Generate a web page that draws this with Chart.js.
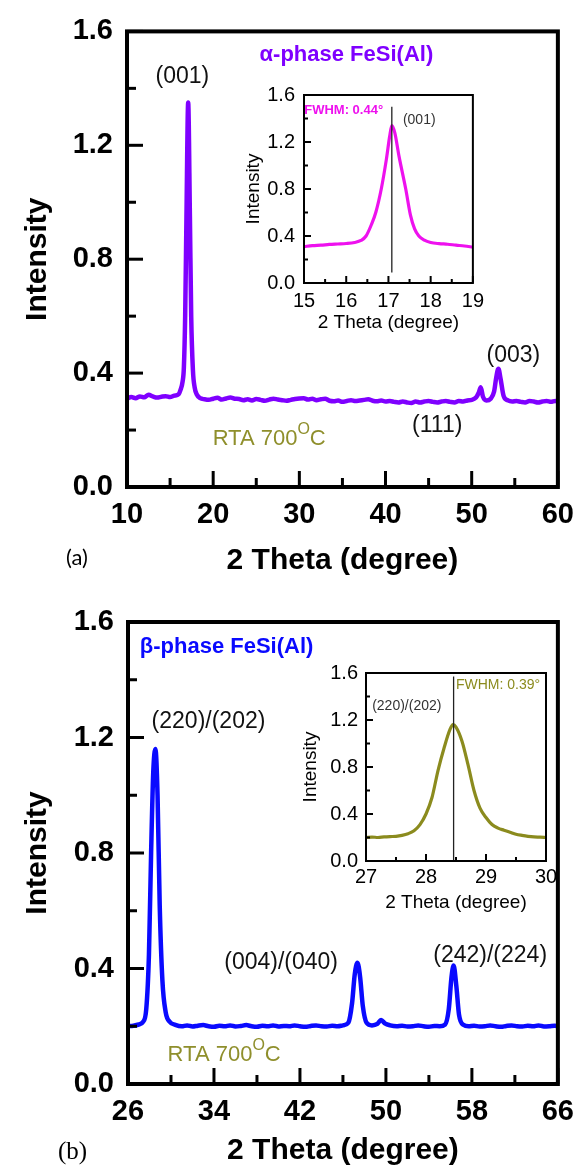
<!DOCTYPE html>
<html>
<head>
<meta charset="utf-8">
<script src="https://cdn.jsdelivr.net/npm/chart.js@4.4.0/dist/chart.umd.min.js"></script>
<style>
  body { margin: 0; background: #fff; }
  #wrap { position: relative; width: 585px; height: 1170px; overflow: hidden; background: #fff; }
  canvas { position: absolute; }
  .tag { position: absolute; color: #000; line-height: 1; }
</style>
</head>
<body>
<div id="wrap">
  <canvas id="mainA" width="585" height="580" style="left:0px;top:0px"></canvas>
  <canvas id="insetA" width="260" height="270" style="left:230px;top:70px"></canvas>
  <canvas id="mainB" width="585" height="590" style="left:0px;top:580px"></canvas>
  <canvas id="insetB" width="275" height="275" style="left:290px;top:640px"></canvas>
  <div class="tag" style="left:66px;top:543px;font:22px Lato">(a)</div>
  <div class="tag" style="left:58px;top:1137px;font:25px 'Liberation Serif'">(b)</div>
</div>
<script>
// panel (a) alpha phase scan
var thetaA = [
  10, 10.5, 11, 11.5, 12, 12.5, 13, 13.5, 14, 14.5,
  15, 15.5, 16, 16.2, 16.45, 16.6, 16.75, 16.9, 17.1, 17.3,
  17.45, 17.65, 17.85, 18.1, 18.5, 19, 19.5, 20, 20.5, 21,
  21.5, 22, 22.5, 23, 23.5, 24, 24.5, 25, 25.5, 26,
  26.5, 27, 27.5, 28, 28.5, 29, 29.5, 30, 30.5, 31,
  31.5, 32, 32.5, 33, 33.5, 34, 34.5, 35, 35.5, 36,
  36.5, 37, 37.5, 38, 38.5, 39, 39.5, 40, 40.5, 41,
  41.5, 42, 42.5, 43, 43.5, 44, 44.5, 45, 45.5, 46,
  46.5, 47, 47.5, 48, 48.5, 49, 49.5, 50, 50.5, 50.8,
  51.05, 51.3, 51.7, 52.2, 52.6, 52.85, 53.1, 53.35, 53.7, 54.2,
  54.7, 55.2, 55.7, 56.2, 56.7, 57.2, 57.7, 58.2, 58.7, 59.2,
  59.7, 60
];
var intensityA = [
  0.31, 0.316, 0.312, 0.318, 0.315, 0.324, 0.318, 0.314, 0.317, 0.319,
  0.316, 0.321, 0.326, 0.34, 0.37, 0.42, 0.6, 0.95, 1.35, 0.95,
  0.6, 0.41, 0.35, 0.325, 0.312, 0.308, 0.306, 0.31, 0.313, 0.307,
  0.311, 0.314, 0.31, 0.309, 0.305, 0.308, 0.304, 0.309, 0.306, 0.303,
  0.307, 0.31, 0.307, 0.305, 0.303, 0.306, 0.309, 0.311, 0.312, 0.307,
  0.31, 0.305, 0.308, 0.31, 0.303, 0.301, 0.304, 0.299, 0.302, 0.305,
  0.302, 0.304, 0.306, 0.308, 0.303, 0.301, 0.304, 0.3, 0.302, 0.299,
  0.297, 0.3, 0.297, 0.295, 0.3, 0.297, 0.3, 0.302, 0.299, 0.297,
  0.3, 0.302, 0.299, 0.297, 0.302, 0.3, 0.304, 0.306, 0.314, 0.33,
  0.35, 0.318, 0.304, 0.31, 0.335, 0.385, 0.415, 0.38, 0.32, 0.304,
  0.3, 0.302, 0.299, 0.297, 0.302, 0.3, 0.297, 0.3, 0.302, 0.299,
  0.302, 0.3
];

// inset of (a): (001) peak
var thetaInA = [15, 15.2, 15.4, 15.6, 15.8, 16, 16.2, 16.35, 16.47, 16.6, 16.7, 16.83, 16.95, 17.03,
  17.08, 17.15, 17.25, 17.41, 17.52, 17.62, 17.72, 17.85, 18, 18.2, 18.4, 18.6, 18.8, 19];
var intensityInA = [0.31, 0.318, 0.322, 0.328, 0.332, 0.336, 0.345, 0.362, 0.4, 0.5, 0.6, 0.8, 1.05, 1.25,
  1.34, 1.28, 1.08, 0.8, 0.58, 0.46, 0.4, 0.365, 0.345, 0.335, 0.33, 0.322, 0.315, 0.305];

// panel (b) beta phase scan
var thetaB = [
  26, 26.5, 27, 27.4, 27.7, 27.95, 28.15, 28.35, 28.55, 28.75,
  28.95, 29.2, 29.5, 29.9, 30.4, 31, 31.5, 32, 32.5, 33,
  33.5, 34, 34.5, 35, 35.5, 36, 36.5, 37, 37.5, 38,
  38.5, 39, 39.5, 40, 40.5, 41, 41.5, 42, 42.5, 43,
  43.5, 44, 44.5, 45, 45.5, 46, 46.5, 46.85, 47.1, 47.35,
  47.6, 47.85, 48.2, 48.7, 49.2, 49.55, 49.9, 50.4, 51, 51.5,
  52, 52.5, 53, 53.5, 54, 54.5, 55, 55.5, 55.85, 56.1,
  56.3, 56.55, 56.8, 57.2, 57.7, 58.2, 58.7, 59.2, 59.7, 60.2,
  60.7, 61.2, 61.7, 62.2, 62.7, 63.2, 63.7, 64.2, 64.7, 65.2,
  65.7, 66
];
var intensityB = [
  0.2, 0.202, 0.206, 0.215, 0.26, 0.45, 0.8, 1.08, 1.16, 1.0,
  0.62, 0.36, 0.25, 0.215, 0.205, 0.2, 0.203, 0.199, 0.202, 0.204,
  0.2, 0.198, 0.202, 0.2, 0.203, 0.199, 0.201, 0.204, 0.2, 0.198,
  0.202, 0.2, 0.203, 0.199, 0.201, 0.2, 0.203, 0.2, 0.198, 0.201,
  0.203, 0.2, 0.199, 0.202, 0.2, 0.203, 0.212, 0.28, 0.38, 0.42,
  0.37, 0.27, 0.212, 0.203, 0.208, 0.222, 0.21, 0.203, 0.2, 0.202,
  0.199, 0.2, 0.203, 0.2, 0.198, 0.201, 0.2, 0.206, 0.26, 0.37,
  0.41, 0.34, 0.24, 0.205, 0.2, 0.202, 0.199, 0.2, 0.203, 0.2,
  0.198, 0.201, 0.203, 0.2, 0.199, 0.202, 0.2, 0.203, 0.199, 0.2,
  0.202, 0.2
];

// inset of (b): (220)/(202) peak
var thetaInB = [27, 27.1, 27.2, 27.3, 27.4, 27.5, 27.6, 27.7, 27.8, 27.9, 28, 28.1, 28.2, 28.3, 28.4, 28.45,
  28.5, 28.6, 28.7, 28.8, 28.9, 29, 29.1, 29.2, 29.3, 29.4, 29.5, 29.6, 29.7, 29.8, 29.9, 30];
var intensityInB = [0.2, 0.204, 0.2, 0.205, 0.208, 0.21, 0.218, 0.232, 0.258, 0.31, 0.4, 0.54, 0.77, 0.96, 1.12, 1.16,
  1.14, 1.02, 0.82, 0.6, 0.45, 0.37, 0.31, 0.28, 0.262, 0.245, 0.228, 0.218, 0.21, 0.205, 0.203, 0.2];

// text notes, in data coordinates
var notesA = [
  { text: 'α-phase FeSi(Al)', x: 35.46, y: 1.517 },
  { text: '(001)', x: 16.42, y: 1.44 },
  { text: '(003)', x: 54.84, y: 0.462 },
  { text: '(111)', x: 46.0, y: 0.215 },
  { text: 'RTA 700|O|C', x: 26.5, y: 0.17 }
];
var notesInA = [
  { text: 'FWHM: 0.44°', x: 15.94, y: 1.468 },
  { text: '(001)', x: 17.73, y: 1.383 }
];
var notesB = [
  { text: 'β-phase FeSi(Al)', x: 27.1, y: 1.513 },
  { text: '(220)/(202)', x: 33.49, y: 1.254 },
  { text: '(004)/(040)', x: 40.25, y: 0.419 },
  { text: '(242)/(224)', x: 59.7, y: 0.443 },
  { text: 'RTA 700|O|C', x: 34.95, y: 0.10 }
];
var notesInB = [
  { text: '(220)/(202)', x: 27.68, y: 1.319 },
  { text: 'FWHM: 0.39°', x: 29.2, y: 1.498 }
];
var markerInA = { x: 17.08, from: 0.09, to: 1.5 };
var markerInB = { x: 28.46, from: 0, to: 1.57 };

var FAM = "'Liberation Sans', Arial, sans-serif";
var violet = '#7f00ff', magenta = '#ee11ee', blue = '#0a0aff', olive = '#8b8b1e', oliveText = '#8f8f2c';

Chart.defaults.font.family = FAM;
Chart.defaults.color = '#000';

// frame, inward ticks, marker line and text notes
var decor = {
  id: 'decor',
  afterDatasetsDraw: function (chart, args, o) {
    var ctx = chart.ctx, a = chart.chartArea, x = chart.scales.x, y = chart.scales.y;
    ctx.save();
    ctx.strokeStyle = '#000';
    ctx.lineWidth = o.tickWidth;
    x.ticks.forEach(function (t) {
      var px = x.getPixelForValue(t.value);
      var len = t.label !== '' ? o.major : o.minor;
      ctx.beginPath(); ctx.moveTo(px, a.bottom); ctx.lineTo(px, a.bottom - len); ctx.stroke();
    });
    y.ticks.forEach(function (t) {
      var py = y.getPixelForValue(t.value);
      var len = t.label !== '' ? o.major : o.minor;
      ctx.beginPath(); ctx.moveTo(a.left, py); ctx.lineTo(a.left + len, py); ctx.stroke();
    });
    if (o.marker) {
      var mx = x.getPixelForValue(o.marker.x);
      ctx.lineWidth = 1.3;
      ctx.strokeStyle = '#222';
      ctx.beginPath(); ctx.moveTo(mx, y.getPixelForValue(o.marker.from)); ctx.lineTo(mx, y.getPixelForValue(o.marker.to)); ctx.stroke();
    }
    ctx.strokeStyle = '#000';
    ctx.lineWidth = o.frame;
    ctx.strokeRect(a.left, a.top, a.right - a.left, a.bottom - a.top);
    ctx.restore();
  },
  afterDraw: function (chart, args, o) {
    var ctx = chart.ctx, x = chart.scales.x, y = chart.scales.y;
    ctx.save();
    ctx.textBaseline = 'middle';
    (o.notes || []).forEach(function (n, i) {
      var st = o.styles[i];
      var px = x.getPixelForValue(n.x), py = y.getPixelForValue(n.y);
      var parts = n.text.split('|');
      var font = (st.bold ? 'bold ' : '') + st.size + 'px ' + FAM;
      var supFont = (st.bold ? 'bold ' : '') + Math.round(st.size * 0.72) + 'px ' + FAM;
      var widths = parts.map(function (p, k) {
        ctx.font = k === 1 ? supFont : font;
        return ctx.measureText(p).width;
      });
      var total = widths.reduce(function (s, w) { return s + w; }, 0);
      var cx = st.align === 'left' ? px : px - total / 2;
      ctx.fillStyle = st.color;
      ctx.textAlign = 'left';
      parts.forEach(function (p, k) {
        ctx.font = k === 1 ? supFont : font;
        ctx.fillText(p, cx, k === 1 ? py - st.size * 0.42 : py);
        cx += widths[k];
      });
    });
    ctx.restore();
  }
};

function makeChart(id, xs, ys, c) {
  var pts = xs.map(function (v, i) { return { x: v, y: ys[i] }; });
  return new Chart(document.getElementById(id), {
    type: 'line',
    data: {
      datasets: [{
        data: pts,
        borderColor: c.color,
        borderWidth: c.lw,
        pointRadius: 0,
        fill: false,
        cubicInterpolationMode: 'monotone'
      }]
    },
    options: {
      responsive: false,
      animation: false,
      devicePixelRatio: 1,
      layout: { padding: c.pad },
      plugins: {
        legend: { display: false },
        tooltip: { enabled: false },
        decor: c.decor
      },
      scales: {
        x: {
          type: 'linear',
          min: c.xMin, max: c.xMax,
          grid: { display: false, drawTicks: false },
          border: { display: false },
          ticks: {
            stepSize: c.xStep, autoSkip: false, maxRotation: 0,
            padding: c.xTickPad, font: c.tickFont, color: '#000',
            callback: function (v) {
              var k = (v - c.xMin) / c.xEvery;
              return Math.abs(k - Math.round(k)) < 1e-6 ? String(Math.round(v)) : '';
            }
          },
          title: { display: true, text: '2 Theta (degree)', font: c.titleFont, color: '#000', padding: { top: 0, bottom: c.xTitlePad } },
          afterFit: function (s) { s.height = c.xHeight; }
        },
        y: {
          type: 'linear',
          min: 0, max: 1.6,
          grid: { display: false, drawTicks: false },
          border: { display: false },
          ticks: {
            stepSize: 0.2, autoSkip: false,
            padding: c.yTickPad, font: c.tickFont, color: '#000',
            callback: function (v) {
              var k = Math.round(v * 10);
              return k % 4 === 0 ? (k / 10).toFixed(1) : '';
            }
          },
          title: { display: true, text: 'Intensity', font: c.titleFont, color: '#000', padding: { top: c.yTitlePad, bottom: 0 } },
          afterFit: function (s) { s.width = c.yWidth; }
        }
      }
    },
    plugins: [decor]
  });
}

var mainTick = { size: 29, weight: 'bold', lineHeight: 1.2 };
var mainTitle = { size: 30, weight: 'bold', lineHeight: 1.2 };
var insetTick = { size: 20, weight: 'normal', lineHeight: 1.2 };
var insetTitle = { size: 19, weight: 'normal', lineHeight: 1.2 };

makeChart('mainA', thetaA, intensityA, {
  color: violet, lw: 4.5,
  xMin: 10, xMax: 60, xStep: 5, xEvery: 10,
  pad: { top: 26, right: 22, left: 0, bottom: 0 },
  yWidth: 127, xHeight: 93, xTickPad: 11, yTickPad: 14, xTitlePad: 1, yTitlePad: 20,
  tickFont: mainTick, titleFont: mainTitle,
  decor: {
    tickWidth: 3, major: 16, minor: 9, frame: 4,
    notes: notesA,
    styles: [
      { color: violet, size: 22, bold: true },
      { color: '#111', size: 23 },
      { color: '#111', size: 23 },
      { color: '#111', size: 23 },
      { color: oliveText, size: 22 }
    ]
  }
});

makeChart('insetA', thetaInA, intensityInA, {
  color: magenta, lw: 3.2,
  xMin: 15, xMax: 19, xStep: 0.5, xEvery: 1,
  pad: { top: 25, right: 7, left: 0, bottom: 0 },
  yWidth: 74, xHeight: 57, xTickPad: 6, yTickPad: 9, xTitlePad: 6, yTitlePad: 12,
  tickFont: insetTick, titleFont: insetTitle,
  decor: {
    tickWidth: 2, major: 7, minor: 4, frame: 2,
    marker: markerInA,
    notes: notesInA,
    styles: [
      { color: magenta, size: 13, bold: true },
      { color: '#333', size: 14 }
    ]
  }
});

makeChart('mainB', thetaB, intensityB, {
  color: blue, lw: 4.5,
  xMin: 26, xMax: 66, xStep: 4, xEvery: 8,
  pad: { top: 42, right: 19, left: 0, bottom: 0 },
  yWidth: 128, xHeight: 86, xTickPad: 11, yTickPad: 14, xTitlePad: 1, yTitlePad: 20,
  tickFont: mainTick, titleFont: mainTitle,
  decor: {
    tickWidth: 3, major: 16, minor: 9, frame: 4,
    notes: notesB,
    styles: [
      { color: blue, size: 22, bold: true, align: 'left' },
      { color: '#111', size: 23 },
      { color: '#111', size: 23 },
      { color: '#111', size: 23 },
      { color: oliveText, size: 22 }
    ]
  }
});

makeChart('insetB', thetaInB, intensityInB, {
  color: olive, lw: 3.2,
  xMin: 27, xMax: 30, xStep: 0.5, xEvery: 1,
  pad: { top: 33, right: 19, left: 0, bottom: 0 },
  yWidth: 76, xHeight: 54, xTickPad: 4, yTickPad: 8, xTitlePad: 1, yTitlePad: 9,
  tickFont: insetTick, titleFont: insetTitle,
  decor: {
    tickWidth: 2, major: 7, minor: 4, frame: 2,
    marker: markerInB,
    notes: notesInB,
    styles: [
      { color: '#333', size: 14 },
      { color: olive, size: 14 }
    ]
  }
});
</script>
</body>
</html>
